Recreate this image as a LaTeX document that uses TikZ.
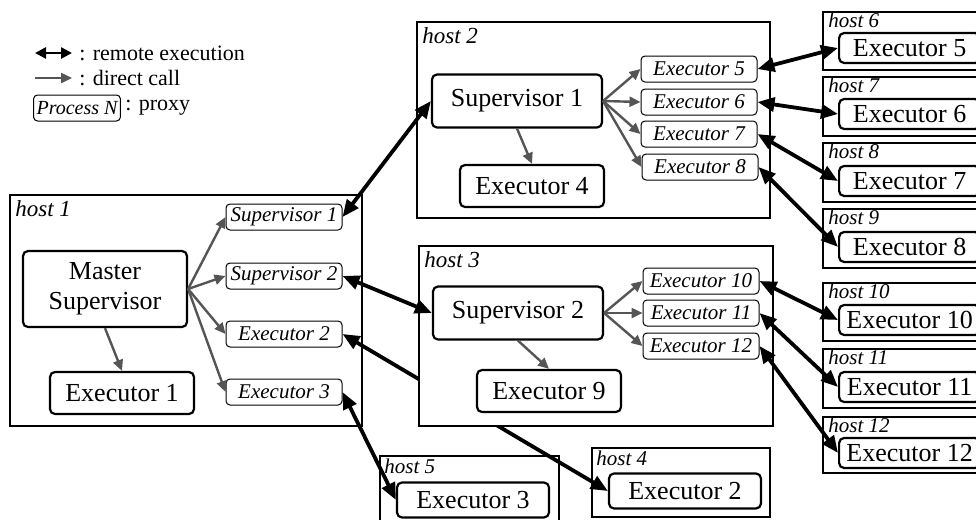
\documentclass[tikz,border=0pt]{standalone}
\usepackage{fontspec}
\setmainfont{Liberation Serif}
\usepackage{tikz}
\usepackage{xcolor}
\usetikzlibrary{arrows.meta,positioning}
\definecolor{callgray}{HTML}{555555}
\tikzset{
  host/.style={draw=black, fill=white, line width=0.6pt},
  hostlabel/.style={anchor=north west, inner sep=1.5pt, font=\fontsize{11.5}{13}\selectfont\itshape},
  smallhostlabel/.style={anchor=north west, inner sep=1pt, font=\fontsize{10.5}{12}\selectfont\itshape},
  worker/.style={draw=black, fill=white, rounded corners=2.5pt, line width=1.1pt,
                 minimum width=72pt, minimum height=21pt, inner sep=2pt,
                 font=\fontsize{13}{15}\selectfont},
  supbox/.style={worker, minimum width=85pt, minimum height=26.5pt},
  farbox/.style={worker, minimum width=76pt, minimum height=17.5pt},
  edgebox/.style={worker, minimum width=70.5pt, minimum height=15pt, inner xsep=1.5pt, anchor=west},
  proxy/.style={draw=black, fill=white, rounded corners=2pt, line width=0.5pt,
                minimum width=58pt, minimum height=13pt, inner sep=1.5pt,
                font=\fontsize{10.5}{12}\selectfont\itshape},
  remote/.style={{Triangle[length=8.5pt,width=7pt]}-{Triangle[length=8.5pt,width=7pt]},
                 line width=1.9pt, draw=black},
  legendremote/.style={{Triangle[length=5.5pt,width=5.5pt]}-{Triangle[length=5.5pt,width=5.5pt]},
                 line width=1.3pt, draw=black},
  call/.style={-{Triangle[length=5.5pt,width=5pt]}, line width=1.2pt, draw=callgray},
  legendtext/.style={anchor=west, inner sep=0pt, font=\fontsize{11}{13}\selectfont}
}
\begin{document}
\begin{tikzpicture}[x=0.5pt,y=-0.5pt]
    \path[use as bounding box, clip] (0,0) rectangle (976,520);

    % ===== legend =====
    \coordinate (lgremoteA) at (35,53);
    \coordinate (lgremoteB) at (72,53);
    \coordinate (lgcallA) at (35,78);
    \coordinate (lgcallB) at (72,78);
    \draw[legendremote] (lgremoteA) -- (lgremoteB);
    \draw[call] (lgcallA) -- (lgcallB);
    \node[legendtext] (lgremote) at (79,53) {: remote execution};
    \node[legendtext] (lgcall) at (79,78) {: direct call};
    \node[proxy, minimum width=0pt, font=\fontsize{10}{12}\selectfont\itshape] (lgproxy) at (77,108) {Process N};
    \node[legendtext] (lgproxytext) at (125,108) {: proxy};

    % ===== host 1 =====
    \draw[host] (10,195) rectangle (362,426);
    \node[hostlabel] (hostone) at (12,197) {host 1};
    \node[worker, minimum width=82pt, minimum height=38pt, align=center] (master) at (105,289) {Master\\Supervisor};
    \node[worker] (exone) at (122,393) {Executor 1};
    \node[proxy] (psupone) at (284,217) {Supervisor 1};
    \node[proxy] (psuptwo) at (284,276) {Supervisor 2};
    \node[proxy] (pextwo) at (284,334) {Executor 2};
    \node[proxy] (pexthree) at (284,392) {Executor 3};

    % ===== host 2 =====
    \draw[host] (417,22) rectangle (770,218);
    \node[hostlabel] (hosttwo) at (419,24) {host 2};
    \node[supbox] (supone) at (517,101) {Supervisor 1};
    \node[worker] (exfour) at (532,186) {Executor 4};
    \node[proxy] (pexfive) at (699,69) {Executor 5};
    \node[proxy] (pexsix) at (699,102) {Executor 6};
    \node[proxy] (pexseven) at (699,134) {Executor 7};
    \node[proxy] (pexeight) at (700,167) {Executor 8};

    % ===== host 4 and host 5 =====
    \draw[host] (592,448) rectangle (770,517);
    \node[smallhostlabel] (hostfour) at (594,449) {host 4};
    \node[farbox] (extwo) at (685,491) {Executor 2};
    \draw[host] (380,456) rectangle (559,530);
    \node[smallhostlabel] (hostfive) at (382,457) {host 5};
    \node[farbox] (exthree) at (473,500) {Executor 3};

    % ===== hosts 6..12 (cut by the right edge) =====
    \draw[host] (823,12) rectangle (1000,70);
    \node[smallhostlabel] (hostsix) at (826,11) {host 6};
    \node[edgebox] (rexfive) at (838,48) {Executor 5};
    \draw[host] (823,77) rectangle (1000,136);
    \node[smallhostlabel] (hostseven) at (826,76) {host 7};
    \node[edgebox] (rexsix) at (838,114) {Executor 6};
    \draw[host] (823,143) rectangle (1000,202);
    \node[smallhostlabel] (hosteight) at (826,142) {host 8};
    \node[edgebox] (rexseven) at (838,181) {Executor 7};
    \draw[host] (823,209) rectangle (1000,268);
    \node[smallhostlabel] (hostnine) at (826,208) {host 9};
    \node[edgebox] (rexeight) at (838,247) {Executor 8};
    \draw[host] (823,283) rectangle (1000,341);
    \node[smallhostlabel] (hostten) at (826,282) {host 10};
    \node[edgebox] (rexten) at (838,320) {Executor 10};
    \draw[host] (823,349) rectangle (1000,408);
    \node[smallhostlabel] (hosteleven) at (826,348) {host 11};
    \node[edgebox] (rexeleven) at (838,387) {Executor 11};
    \draw[host] (823,417) rectangle (1000,473);
    \node[smallhostlabel] (hosttwelve) at (826,416) {host 12};
    \node[edgebox] (rextwelve) at (838,453) {Executor 12};

    % remote link that runs under host 3
    \draw[remote] (pextwo.east) -- (extwo.west);

    % ===== host 3 =====
    \draw[host] (419,246) rectangle (773,426);
    \node[hostlabel] (hostthree) at (421,248) {host 3};
    \node[supbox] (suptwo) at (518,313) {Supervisor 2};
    \node[worker] (exnine) at (549,391) {Executor 9};
    \node[proxy] (pexten) at (701,281) {Executor 10};
    \node[proxy] (pexeleven) at (701,313) {Executor 11};
    \node[proxy] (pextwelve) at (701,346) {Executor 12};

    % ===== direct calls =====
    \draw[call] (master.east) -- (psupone.west);
    \draw[call] (master.east) -- (psuptwo.west);
    \draw[call] (master.east) -- (pextwo.west);
    \draw[call] (master.east) -- (pexthree.west);
    \draw[call] (master.south) -- (exone.north);
    \draw[call] (supone.east) -- (pexfive.west);
    \draw[call] (supone.east) -- (pexsix.west);
    \draw[call] (supone.east) -- (pexseven.west);
    \draw[call] (supone.east) -- (pexeight.west);
    \draw[call] (supone.south) -- (exfour.north);
    \draw[call] (suptwo.east) -- (pexten.west);
    \draw[call] (suptwo.east) -- (pexeleven.west);
    \draw[call] (suptwo.east) -- (pextwelve.west);
    \draw[call] (suptwo.south) -- (exnine.north);

    % ===== remote execution =====
    \draw[remote] (psupone.east) -- (supone.west);
    \draw[remote] (psuptwo.east) -- (suptwo.west);
    \draw[remote] (pexthree.east) -- (exthree.west);
    \draw[remote] (pexfive.east) -- (rexfive.west);
    \draw[remote] (pexsix.east) -- (rexsix.west);
    \draw[remote] (pexseven.east) -- (rexseven.west);
    \draw[remote] (pexeight.east) -- (rexeight.west);
    \draw[remote] (pexten.east) -- (rexten.west);
    \draw[remote] (pexeleven.east) -- (rexeleven.west);
    \draw[remote] (pextwelve.east) -- (rextwelve.west);
\end{tikzpicture}
\end{document}
